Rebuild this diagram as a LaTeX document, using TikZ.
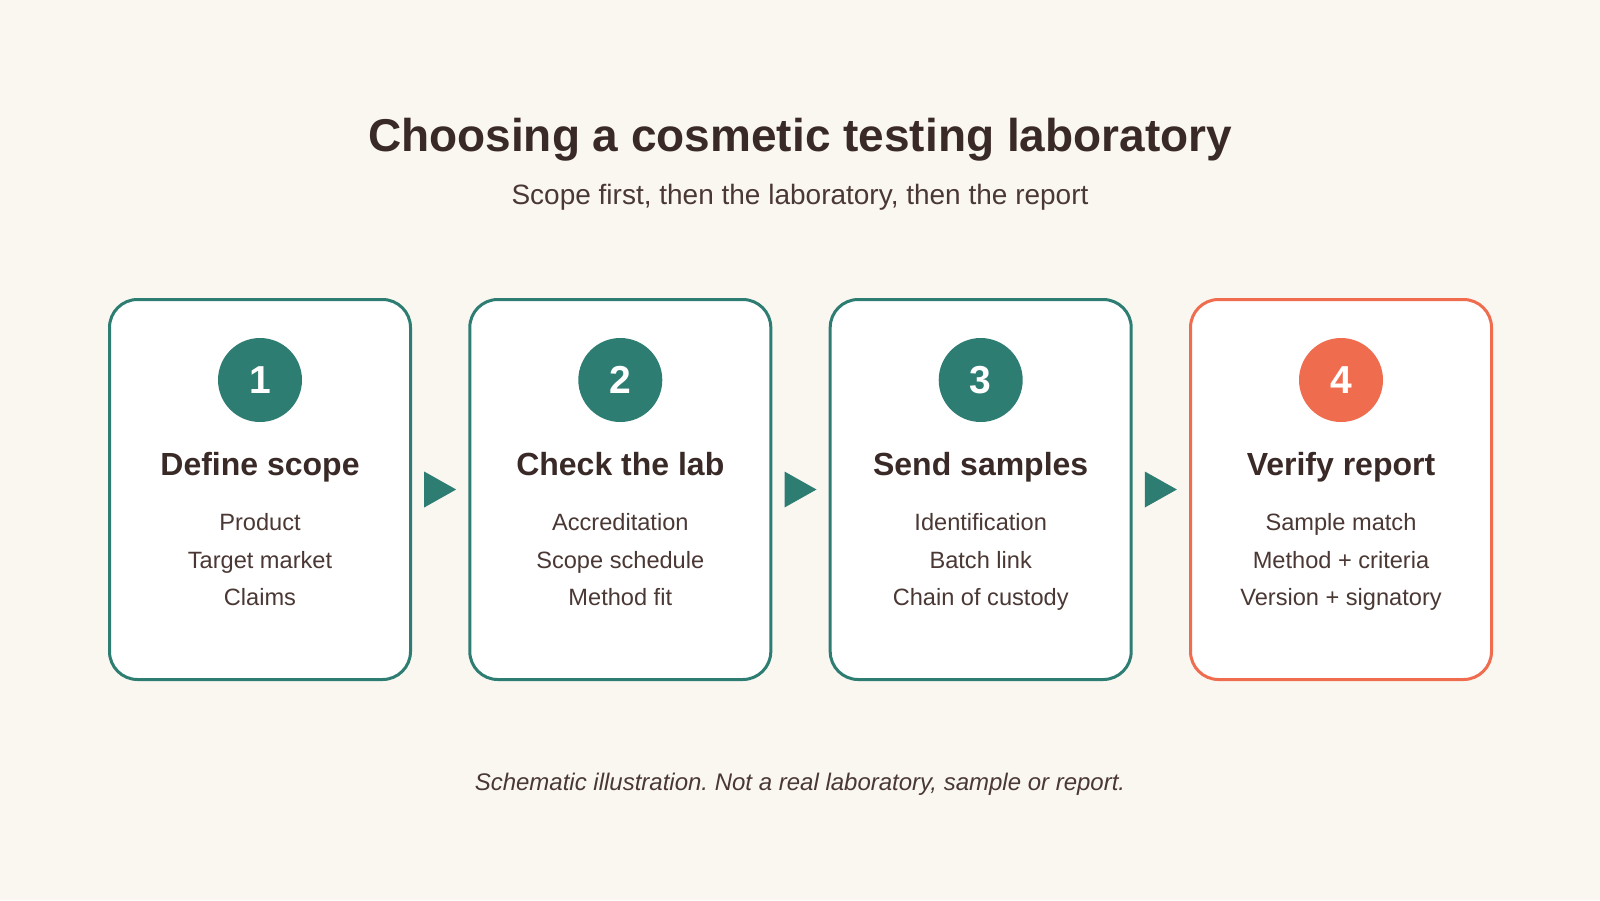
\documentclass[tikz,border=0pt]{standalone}
\usepackage{fontspec}
\setmainfont{Liberation Sans}
\usetikzlibrary{calc}
\frenchspacing
\definecolor{bgc}{HTML}{FAF7F1}
\definecolor{tealc}{HTML}{2E7D73}
\definecolor{coralc}{HTML}{EF6C4F}
\definecolor{darkc}{HTML}{3A2A27}
\definecolor{bodyc}{HTML}{4A3834}
\tikzset{
  card/.style={draw=#1, fill=white, line width=1.5pt, rounded corners=14pt,
    minimum width=150.5pt, minimum height=190pt, inner sep=0pt},
  badge/.style={circle, fill=#1, minimum size=42pt, inner sep=0pt, text=white,
    font=\bfseries\fontsize{19.5}{22}\selectfont},
  cardtitle/.style={anchor=base, text=darkc, font=\bfseries\fontsize{16}{19}\selectfont},
  cardline/.style={anchor=base, text=bodyc, font=\fontsize{11.8}{14}\selectfont},
  tri/.style={fill=tealc},
}
\begin{document}
\begin{tikzpicture}[x=0.5pt,y=-0.5pt]
\fill[bgc] (0,0) rectangle (1600,900);
\useasboundingbox (0,0) rectangle (1600,900);

\node[anchor=base, text=darkc, font=\bfseries\fontsize{23}{28}\selectfont] (title) at (800,151) {Choosing a cosmetic testing laboratory};
\node[anchor=base, text=bodyc, font=\fontsize{14}{17}\selectfont] (subtitle) at (800,204) {Scope first, then the laboratory, then the report};

% cards
\node[card=tealc]  (b1) at (260,489.5) {};
\node[card=tealc]  (b2) at (620.3,489.5) {};
\node[card=tealc]  (b3) at (980.7,489.5) {};
\node[card=coralc] (b4) at (1341,489.5) {};

\node[badge=tealc]  (c1) at (260,380) {1};
\node[badge=tealc]  (c2) at (620.3,380) {2};
\node[badge=tealc]  (c3) at (980.7,380) {3};
\node[badge=coralc] (c4) at (1341,380) {4};

\node[cardtitle] (t1) at (260,475) {Define scope};
\node[cardtitle] (t2) at (620.3,475) {Check the lab};
\node[cardtitle] (t3) at (980.7,475) {Send samples};
\node[cardtitle] (t4) at (1341,475) {Verify report};

\node[cardline] (l11) at (260,530) {Product};
\node[cardline] (l12) at (260,568) {Target market};
\node[cardline] (l13) at (260,605) {Claims};

\node[cardline] (l21) at (620.3,530) {Accreditation};
\node[cardline] (l22) at (620.3,568) {Scope schedule};
\node[cardline] (l23) at (620.3,605) {Method fit};

\node[cardline] (l31) at (980.7,530) {Identification};
\node[cardline] (l32) at (980.7,568) {Batch link};
\node[cardline] (l33) at (980.7,605) {Chain of custody};

\node[cardline] (l41) at (1341,530) {Sample match};
\node[cardline] (l42) at (1341,568) {Method + criteria};
\node[cardline] (l43) at (1341,605) {Version + signatory};

% arrows between cards
\coordinate (m12) at ($(b1.east)!0.5!(b2.west)$);
\coordinate (m23) at ($(b2.east)!0.5!(b3.west)$);
\coordinate (m34) at ($(b3.east)!0.5!(b4.west)$);
\foreach \m in {m12,m23,m34}{
  \fill[tri] ($(\m)+(-16,-18)$) -- ($(\m)+(16,0)$) -- ($(\m)+(-16,18)$) -- cycle;
}

\node[anchor=base, text=bodyc, font=\itshape\fontsize{12}{14}\selectfont] (foot) at (800,790) {Schematic illustration. Not a real laboratory, sample or report.};
\end{tikzpicture}
\end{document}
